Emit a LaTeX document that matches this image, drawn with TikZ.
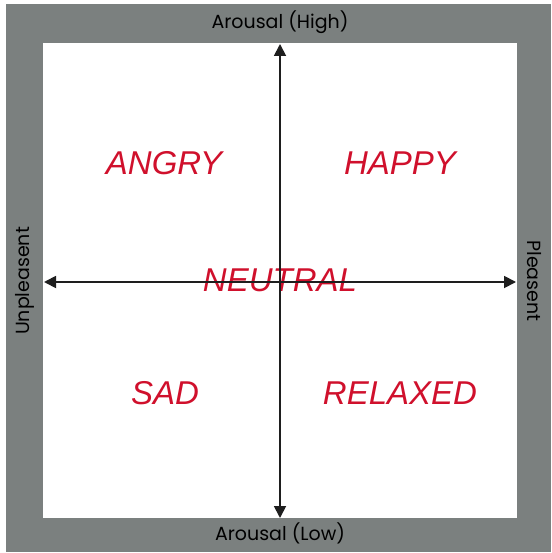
\documentclass[tikz,border=0pt]{standalone}
\usepackage{fontspec}
\setmainfont{Liberation Sans}
\newfontfamily\labelfont{Poppins}
\usetikzlibrary{arrows.meta}
\definecolor{framegray}{RGB}{123,128,127}
\definecolor{moodred}{RGB}{208,16,44}
\definecolor{axisblack}{RGB}{30,30,30}
\begin{document}
\begin{tikzpicture}[x=1pt, y=-1pt,
    axis/.style={line width=1.8pt, draw=axisblack,
        {Triangle[length=12pt,width=12pt]}-{Triangle[length=12pt,width=12pt]}},
    mood/.style={text=moodred, font=\fontsize{33}{33}\selectfont\itshape},
    side/.style={text=black, font=\labelfont\fontsize{19}{19}\selectfont}]
    \useasboundingbox (0,0) rectangle (551,553);
    \fill[framegray] (6,4) rectangle (551,552);
    \fill[white] (43,43) rectangle (517,518);
    % axis labels
    \node[side] (high) at (280,22) {Arousal (High)};
    \node[side] (low) at (280,533) {Arousal (Low)};
    \node[side, rotate=90] (unpl) at (25,281) {Unpleasent};
    \node[side, rotate=-90] (pl) at (534,281) {Pleasent};
    % moods
    \node[mood] (angry) at (164,163) {ANGRY};
    \node[mood] (happy) at (400,163) {HAPPY};
    \node[mood] (neutral) at (280,280) {NEUTRAL};
    \node[mood] (sad) at (165,393) {SAD};
    \node[mood] (relaxed) at (400,393) {RELAXED};
    % axes
    \coordinate (top) at (280,44);
    \coordinate (bottom) at (280,518);
    \coordinate (left) at (44,282);
    \coordinate (right) at (516,282);
    \draw[axis] (bottom) -- (top);
    \draw[axis] (left) -- (right);
\end{tikzpicture}
\end{document}
